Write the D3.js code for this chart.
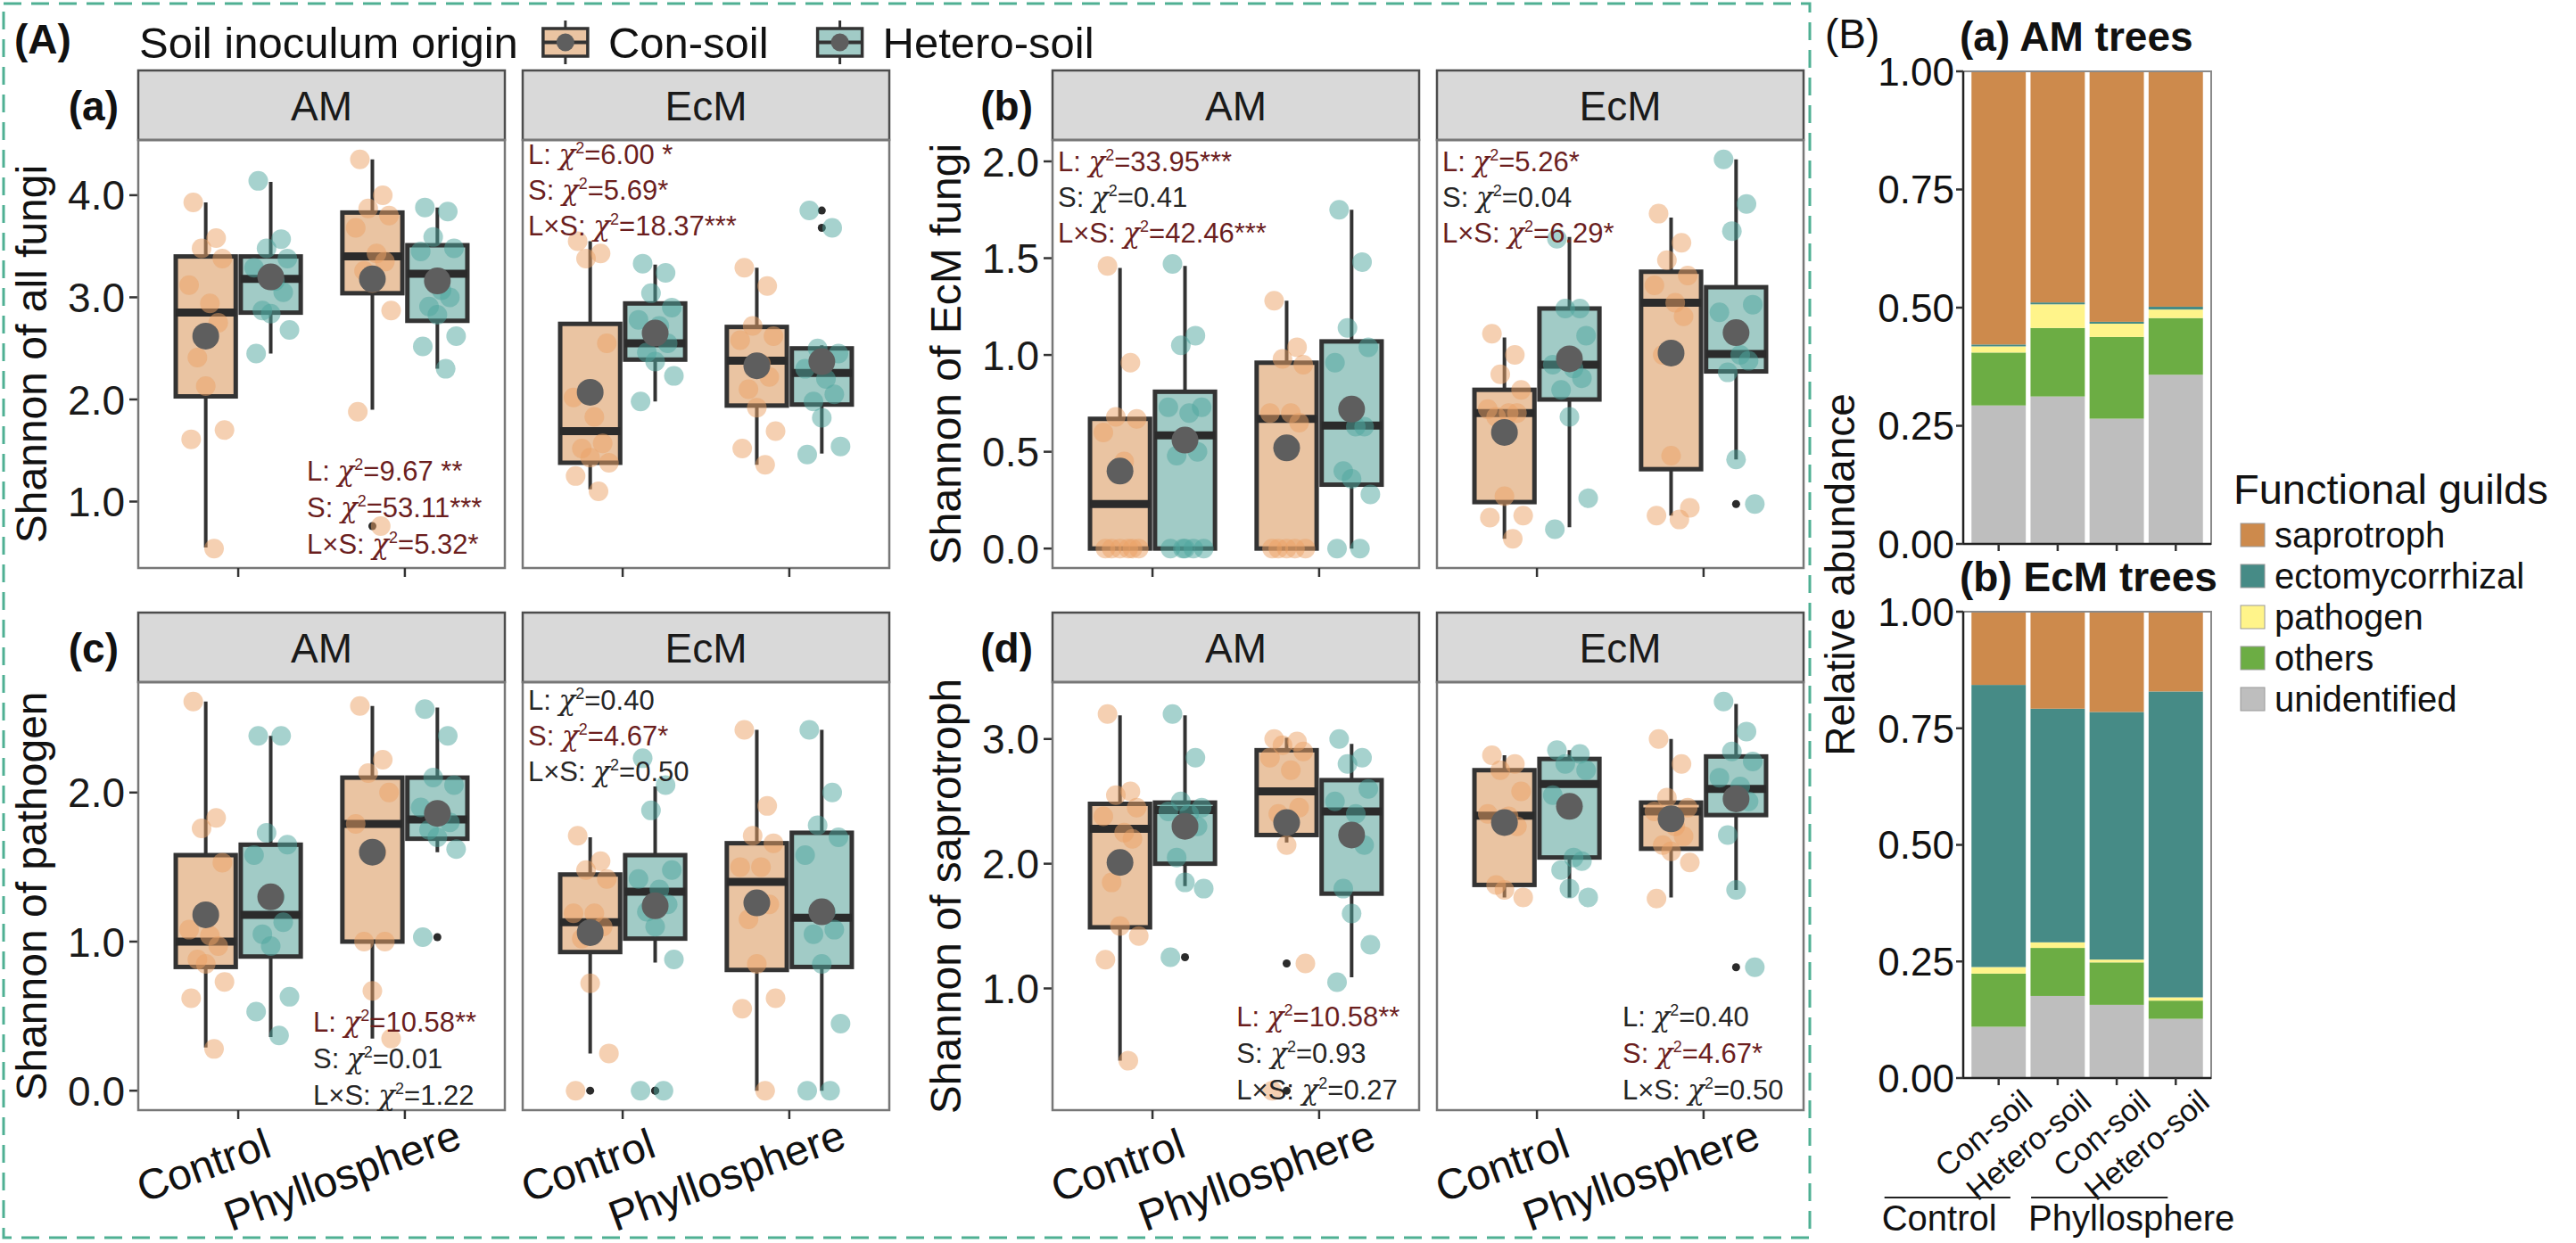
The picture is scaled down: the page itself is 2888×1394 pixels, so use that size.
<!DOCTYPE html>
<html>
<head>
<meta charset="utf-8">
<script src="https://cdn.jsdelivr.net/npm/d3@7"></script>
<style>
  body { margin: 0; background: #fff; }
  svg { display: block; }
</style>
</head>
<body>
<script>
// ── Data ────────────────────────────────────────────────────────────────────
const SOILS = ["Con-soil", "Hetero-soil"];
const LOCS = ["Control", "Phyllosphere"];
const MYCO = ["AM", "EcM"];

// box stats per facet, order: Control/Con, Control/Hetero, Phyllo/Con, Phyllo/Hetero
// each row = [lower whisker, Q1, median, Q3, upper whisker, mean]
const statsAllAM = [[0.55, 2.03, 2.85, 3.40, 3.93, 2.62], [2.45, 2.85, 3.18, 3.40, 4.13, 3.20], [1.90, 3.04, 3.40, 3.83, 4.35, 3.18], [2.30, 2.77, 3.23, 3.51, 3.88, 3.16]];
const statsAllEcM = [[1.12, 1.38, 1.69, 2.74, 3.55, 2.07], [1.98, 2.39, 2.55, 2.94, 3.32, 2.65], [1.36, 1.94, 2.38, 2.71, 3.29, 2.33], [1.47, 1.95, 2.26, 2.50, 2.53, 2.37]];
const ptsAllAM = [[3.93, 3.58, 3.48, 3.38, 3.12, 2.94, 2.75, 2.41, 2.13, 1.70, 1.61, 0.54], [4.14, 3.57, 3.48, 3.38, 3.29, 3.16, 3.05, 2.87, 2.84, 2.68, 2.45], [4.35, 4.00, 3.87, 3.80, 3.68, 3.43, 3.35, 3.26, 3.14, 2.87, 1.88, 0.76], [3.88, 3.84, 3.59, 3.48, 3.45, 3.07, 3.00, 2.91, 2.83, 2.62, 2.52, 2.30]];
const ptsAllEcM = [[3.55, 3.43, 3.38, 2.55, 2.02, 1.83, 1.57, 1.52, 1.43, 1.38, 1.25, 1.10], [3.33, 3.24, 3.04, 2.90, 2.78, 2.72, 2.55, 2.46, 2.37, 2.23, 1.98], [3.29, 3.11, 2.72, 2.62, 2.58, 2.35, 2.22, 2.10, 1.92, 1.69, 1.52, 1.36], [3.85, 3.68, 2.50, 2.45, 2.30, 2.20, 2.05, 1.98, 1.82, 1.54, 1.46]];
const outAllAM = [[], [], [0.76], []];
const outAllEcM = [[], [], [], [3.85, 3.68]];

const statsEcmAM = [[0, 0, 0.23, 0.67, 1.45, 0.40], [0, 0, 0.585, 0.81, 1.46, 0.56], [0, 0, 0.67, 0.96, 1.28, 0.52], [0, 0.33, 0.635, 1.07, 1.75, 0.72]];
const statsEcmEcM = [[0.05, 0.24, 0.70, 0.82, 1.09, 0.60], [0.11, 0.77, 0.95, 1.24, 1.61, 0.98], [0.17, 0.41, 1.27, 1.43, 1.71, 1.01], [0.46, 0.915, 1.005, 1.35, 2.01, 1.115]];
const ptsEcmAM = [[1.46, 0.96, 0.68, 0.67, 0.60, 0.45, 0, 0, 0, 0, 0, 0], [1.47, 1.10, 1.05, 0.73, 0.73, 0.70, 0.50, 0.48, 0, 0, 0, 0, 0], [1.28, 1.04, 0.98, 0.95, 0.70, 0.70, 0.65, 0, 0, 0, 0, 0], [1.75, 1.48, 1.14, 1.04, 0.96, 0.63, 0.63, 0.40, 0.36, 0.28, 0, 0]];
const ptsEcmEcM = [[1.11, 1.00, 0.90, 0.82, 0.72, 0.70, 0.70, 0.68, 0.27, 0.17, 0.16, 0.05], [1.60, 1.24, 1.24, 1.10, 0.95, 0.93, 0.88, 0.82, 0.68, 0.26, 0.10], [1.73, 1.58, 1.49, 1.41, 1.36, 1.27, 1.20, 1.00, 0.48, 0.21, 0.17, 0.15], [2.01, 1.78, 1.64, 1.26, 1.22, 1.00, 0.97, 0.91, 0.46, 0.23]];
const outEcmAM = [[], [], [], []];
const outEcmEcM = [[], [], [], [0.23]];

const statsPathAM = [[0.29, 0.83, 1.00, 1.58, 2.61, 1.18], [0.36, 0.90, 1.18, 1.65, 2.38, 1.30], [0.35, 1.00, 1.79, 2.10, 2.58, 1.60], [1.60, 1.69, 1.82, 2.10, 2.57, 1.86]];
const statsPathEcM = [[0.25, 0.93, 1.13, 1.45, 1.70, 1.06], [0.86, 1.02, 1.335, 1.58, 2.04, 1.24], [0, 0.81, 1.40, 1.66, 2.42, 1.26], [0, 0.83, 1.16, 1.73, 2.42, 1.20]];
const ptsPathAM = [[2.61, 1.83, 1.76, 1.53, 1.08, 1.04, 0.97, 0.88, 0.85, 0.73, 0.62, 0.28], [2.38, 2.38, 1.73, 1.65, 1.58, 1.30, 1.13, 1.05, 0.97, 0.63, 0.53, 0.37], [2.58, 2.22, 2.13, 2.00, 1.79, 1.60, 1.00, 1.00, 0.67, 0.35], [2.56, 2.38, 2.10, 2.05, 1.90, 1.85, 1.80, 1.75, 1.70, 1.62, 1.03]];
const ptsPathEcM = [[1.71, 1.54, 1.48, 1.42, 1.19, 1.19, 1.10, 1.02, 0.72, 0.25, 0], [2.23, 2.05, 1.88, 1.48, 1.42, 1.35, 1.25, 1.20, 1.10, 0.88, 0, 0], [2.42, 1.91, 1.71, 1.66, 1.50, 1.50, 1.25, 1.15, 0.85, 0.62, 0.55, 0], [2.42, 2.00, 1.78, 1.70, 1.58, 1.20, 1.08, 1.05, 0.85, 0.45, 0, 0]];
const outPathAM = [[], [], [], [1.03]];
const outPathEcM = [[0], [0, 0], [], []];

const statsSapAM = [[0.42, 1.49, 2.28, 2.48, 3.19, 2.01], [1.82, 2.00, 2.43, 2.49, 3.19, 2.30], [2.17, 2.23, 2.58, 2.91, 3.01, 2.33], [1.09, 1.76, 2.42, 2.67, 2.96, 2.23]];
const statsSapEcM = [[1.73, 1.83, 2.385, 2.75, 2.87, 2.33], [1.73, 2.05, 2.64, 2.84, 2.91, 2.46], [1.73, 2.12, 2.42, 2.49, 3.00, 2.36], [1.79, 2.39, 2.60, 2.86, 3.28, 2.52]];
const ptsSapAM = [[3.20, 2.58, 2.55, 2.45, 2.38, 2.25, 2.20, 1.85, 1.50, 1.42, 1.23, 0.42], [3.20, 2.85, 2.50, 2.45, 2.42, 2.40, 2.30, 2.05, 1.85, 1.80, 1.25], [3.00, 2.98, 2.95, 2.90, 2.85, 2.75, 2.45, 2.40, 2.15, 1.20, 0.18], [3.00, 2.85, 2.80, 2.60, 2.50, 2.40, 2.15, 1.80, 1.60, 1.35, 1.05]];
const ptsSapEcM = [[2.87, 2.80, 2.75, 2.58, 2.40, 2.38, 2.30, 1.83, 1.79, 1.73], [2.91, 2.88, 2.80, 2.75, 2.55, 2.05, 2.02, 1.95, 1.80, 1.73], [3.00, 2.80, 2.53, 2.45, 2.42, 2.30, 2.22, 2.15, 2.10, 2.01, 1.72], [3.30, 3.06, 2.90, 2.82, 2.69, 2.62, 2.50, 2.23, 1.79, 1.17]];
const outSapAM = [[], [1.25], [1.20, 0.18], []];
const outSapEcM = [[], [], [], [1.17]];

// test results: [term, chi-square text, significant?]
const notesAllAM = [["L", "9.67 **", 1], ["S", "53.11***", 1], ["L×S", "5.32*", 1]];
const notesAllEcM = [["L", "6.00 *", 1], ["S", "5.69*", 1], ["L×S", "18.37***", 1]];
const notesEcmAM = [["L", "33.95***", 1], ["S", "0.41", 0], ["L×S", "42.46***", 1]];
const notesEcmEcM = [["L", "5.26*", 1], ["S", "0.04", 0], ["L×S", "6.29*", 1]];
const notesPathAM = [["L", "10.58**", 1], ["S", "0.01", 0], ["L×S", "1.22", 0]];
const notesPathEcM = [["L", "0.40", 0], ["S", "4.67*", 1], ["L×S", "0.50", 0]];
const notesSapAM = [["L", "10.58**", 1], ["S", "0.93", 0], ["L×S", "0.27", 0]];
const notesSapEcM = [["L", "0.40", 0], ["S", "4.67*", 1], ["L×S", "0.50", 0]];

const ticksAll = [1, 2, 3, 4];
const ticksEcm = [0, 0.5, 1, 1.5, 2];
const ticksPath = [0, 1, 2];
const ticksSap = [1, 2, 3];

// panel (B): relative abundance of functional guilds
const BAR_LABELS = ["Con-soil", "Hetero-soil", "Con-soil", "Hetero-soil"];
const GUILDS = ["saprotroph", "ectomycorrhizal", "pathogen", "others", "unidentified"];
const GUILD_COLORS = ["#CD8A4C", "#468B86", "#FFF48A", "#6CAD44", "#BEBEBE"];
const amSapro = [0.578, 0.489, 0.530, 0.498];
const amEcto = [0.004, 0.004, 0.004, 0.006];
const amPath = [0.013, 0.050, 0.028, 0.018];
const amOthers = [0.112, 0.145, 0.173, 0.120];
const amUnid = [0.293, 0.312, 0.265, 0.358];
const ecmSapro = [0.157, 0.208, 0.215, 0.171];
const ecmEcto = [0.605, 0.501, 0.531, 0.656];
const ecmPath = [0.014, 0.012, 0.006, 0.007];
const ecmOthers = [0.114, 0.103, 0.091, 0.039];
const ecmUnid = [0.110, 0.176, 0.157, 0.127];
const bTicks = [0, 0.25, 0.5, 0.75, 1];

// ── Layout / style ──────────────────────────────────────────────────────────
const W = 2888, H = 1394;
const FONT = '"Liberation Sans", Arial, Helvetica, sans-serif';
const COL_X = [155, 1180];            // left edge of the AM facet per column
const FACET_W = 411, FACET_GAP = 20;
const ROWS = [{ strip: 79, top: 157, bottom: 637 }, { strip: 687, top: 765, bottom: 1245 }];
const DODGE = 0.195, BOX_HALF = 0.18;
const JIT = [-0.06, 0.05, -0.02, 0.08, -0.08, 0.02, 0.06, -0.04, 0.0, 0.09, -0.07, 0.04, -0.01];
const SOIL_FILL = ["#EAC4A2", "#A1CBC6"];
const SOIL_PT = ["#EBA266", "#4EA69D"];
const RED = "#6B1E1E", INK = "#262626";
const NOTE_FS = 31;
const LOC_BRACKET = [[-128, -53], [-96, -9]]; // x offsets of the location brackets in (B)

const svg = d3.select("body").append("svg")
  .attr("width", W).attr("height", H)
  .style("font-family", FONT);

svg.append("rect").attr("width", W).attr("height", H).attr("fill", "#fff");

// dashed frame around (A)
svg.append("rect")
  .attr("x", 4).attr("y", 4).attr("width", 2025).attr("height", 1384)
  .attr("fill", "none").attr("stroke", "#4FB093").attr("stroke-width", 3)
  .attr("stroke-dasharray", "20 11");

const PANELS = [
  { tag: "(a)", ylab: "Shannon of all fungi", col: 0, row: 0, ticks: ticksAll,
    stats: [statsAllAM, statsAllEcM], pts: [ptsAllAM, ptsAllEcM], out: [outAllAM, outAllEcM],
    notes: [notesAllAM, notesAllEcM], place: [{ br: 0.46, off: 27 }, { tl: 16 }] },
  { tag: "(b)", ylab: "Shannon of EcM fungi", col: 1, row: 0, ticks: ticksEcm,
    stats: [statsEcmAM, statsEcmEcM], pts: [ptsEcmAM, ptsEcmEcM], out: [outEcmAM, outEcmEcM],
    notes: [notesEcmAM, notesEcmEcM], place: [{ tl: 24 }, { tl: 24 }] },
  { tag: "(c)", ylab: "Shannon of pathogen", col: 0, row: 1, ticks: ticksPath,
    stats: [statsPathAM, statsPathEcM], pts: [ptsPathAM, ptsPathEcM], out: [outPathAM, outPathEcM],
    notes: [notesPathAM, notesPathEcM], place: [{ br: 0.477, off: 17 }, { tl: 20 }] },
  { tag: "(d)", ylab: "Shannon of saprotroph", col: 1, row: 1, ticks: ticksSap,
    stats: [statsSapAM, statsSapEcM], pts: [ptsSapAM, ptsSapEcM], out: [outSapAM, outSapEcM],
    notes: [notesSapAM, notesSapEcM], place: [{ br: 0.502, off: 23 }, { br: 0.506, off: 23 }] },
];

function noteLine(g, x, yc, line) {
  const [term, val, sig] = line;
  const t = g.append("text")
    .attr("x", x).attr("y", yc).attr("dy", "0.36em")
    .attr("font-size", NOTE_FS)
    .attr("fill", sig ? RED : INK);
  t.append("tspan").text(term + ": ");
  t.append("tspan").attr("font-family", '"DejaVu Serif", serif').attr("font-style", "italic").text("χ");
  t.append("tspan").attr("dy", -12).attr("font-size", NOTE_FS * 0.58).text("2");
  t.append("tspan").attr("dy", 12).text("=" + val);
}

function drawPanel(p) {
  const row = ROWS[p.row];
  const x0 = COL_X[p.col];

  // shared y scale for both facets, ggplot-like 5% expansion
  const vals = [];
  p.stats.forEach(f => f.forEach(s => vals.push(...s)));
  p.pts.forEach(f => f.forEach(a => vals.push(...a)));
  const [mn, mx] = d3.extent(vals);
  const pad = (mx - mn) * 0.05;
  const y = d3.scaleLinear().domain([mn - pad, mx + pad]).range([row.bottom, row.top]);

  // panel tag + y title
  svg.append("text")
    .attr("x", x0 - 22).attr("y", (row.strip + row.top) / 2).attr("dy", "0.36em")
    .attr("text-anchor", "end").attr("font-size", 46).attr("font-weight", 700)
    .attr("fill", "#111").text(p.tag);
  svg.append("text")
    .attr("transform", `translate(${x0 - 120},${(row.top + row.bottom) / 2}) rotate(-90)`)
    .attr("text-anchor", "middle").attr("dy", "0.36em")
    .attr("font-size", 48).attr("fill", "#111").text(p.ylab);

  // y axis (left facet only)
  p.ticks.forEach(t => {
    svg.append("line")
      .attr("x1", x0 - 10).attr("x2", x0).attr("y1", y(t)).attr("y2", y(t))
      .attr("stroke", "#333").attr("stroke-width", 2.5);
    svg.append("text")
      .attr("x", x0 - 15).attr("y", y(t)).attr("dy", "0.36em")
      .attr("text-anchor", "end").attr("font-size", 46).attr("fill", "#1a1a1a")
      .text(d3.format(".1f")(t));
  });

  MYCO.forEach((m, fi) => {
    const fx = x0 + fi * (FACET_W + FACET_GAP);
    const x = d3.scaleLinear().domain([-0.6, 1.6]).range([fx, fx + FACET_W]);
    const unit = x(1) - x(0);
    const g = svg.append("g");

    // strip
    g.append("rect")
      .attr("x", fx).attr("y", row.strip).attr("width", FACET_W).attr("height", row.top - row.strip)
      .attr("fill", "#D9D9D9").attr("stroke", "#4D4D4D").attr("stroke-width", 2.5);
    g.append("text")
      .attr("x", fx + FACET_W / 2).attr("y", (row.strip + row.top) / 2).attr("dy", "0.36em")
      .attr("text-anchor", "middle").attr("font-size", 46).attr("fill", "#1a1a1a").text(m);

    // boxes
    const boxCx = k => x(Math.floor(k / 2) + (k % 2 ? DODGE : -DODGE));
    p.stats[fi].forEach((s, k) => {
      const cx = boxCx(k);
      const hw = BOX_HALF * unit;
      g.append("line")
        .attr("x1", cx).attr("x2", cx).attr("y1", y(s[0])).attr("y2", y(s[4]))
        .attr("stroke", "#333").attr("stroke-width", 4);
      g.append("rect")
        .attr("x", cx - hw).attr("y", y(s[3])).attr("width", 2 * hw)
        .attr("height", Math.max(1, y(s[1]) - y(s[3])))
        .attr("fill", SOIL_FILL[k % 2]).attr("stroke", "#333").attr("stroke-width", 5);
      g.append("line")
        .attr("x1", cx - hw).attr("x2", cx + hw).attr("y1", y(s[2])).attr("y2", y(s[2]))
        .attr("stroke", "#2b2b2b").attr("stroke-width", 9);
    });

    // outliers (small dark points at the box centre, drawn with the box)
    p.out[fi].forEach((arr, k) => {
      const cx = boxCx(k);
      g.selectAll(null).data(arr).join("circle")
        .attr("cx", cx).attr("cy", d => y(d)).attr("r", 4.5).attr("fill", "#2b2b2b");
    });

    // jittered samples
    p.pts[fi].forEach((arr, k) => {
      const cx = boxCx(k);
      g.selectAll(null).data(arr).join("circle")
        .attr("cx", (d, i) => cx + JIT[i % JIT.length] * 1.25 * unit)
        .attr("cy", d => y(d))
        .attr("r", 11)
        .attr("fill", SOIL_PT[k % 2]).attr("fill-opacity", 0.5);
    });

    // means
    p.stats[fi].forEach((s, k) => {
      g.append("circle").attr("cx", boxCx(k)).attr("cy", y(s[5])).attr("r", 15).attr("fill", "#5E5E5E");
    });

    // panel border
    g.append("rect")
      .attr("x", fx).attr("y", row.top).attr("width", FACET_W).attr("height", row.bottom - row.top)
      .attr("fill", "none").attr("stroke", "#777").attr("stroke-width", 2.5);

    // x ticks and labels
    LOCS.forEach((loc, li) => {
      g.append("line")
        .attr("x1", x(li)).attr("x2", x(li)).attr("y1", row.bottom).attr("y2", row.bottom + 10)
        .attr("stroke", "#333").attr("stroke-width", 2.5);
      if (p.row === 1) {
        const lg = g.append("g").attr("transform", `translate(${x(li)},${row.bottom + 47}) rotate(-20)`);
        const t = lg.append("text")
          .attr("text-anchor", "end").attr("dy", "0.36em")
          .attr("font-size", 48).attr("fill", "#111").text(loc);
        t.attr("x", 0.23 * t.node().getComputedTextLength());
      }
    });

    // test statistics
    const pl = p.place[fi];
    p.notes[fi].forEach((line, i) => {
      if (pl.tl !== undefined) {
        noteLine(g, fx + 6, row.top + pl.tl + i * 40, line);
      } else {
        noteLine(g, fx + pl.br * FACET_W, row.bottom - pl.off - (2 - i) * 41, line);
      }
    });
  });
}

PANELS.forEach(drawPanel);

// ── (A) header and soil legend ─────────────────────────────────────────────
svg.append("text").attr("x", 16).attr("y", 43).attr("dy", "0.36em")
  .attr("font-size", 46).attr("font-weight", 700).attr("fill", "#111").text("(A)");

const legTitle = svg.append("text").attr("x", 156).attr("y", 47).attr("dy", "0.36em")
  .attr("font-size", 49).attr("fill", "#111").text("Soil inoculum origin");
let lx = 156 + legTitle.node().getComputedTextLength() + 28;
SOILS.forEach((s, i) => {
  const kg = svg.append("g");
  kg.append("line").attr("x1", lx + 25).attr("x2", lx + 25).attr("y1", 23).attr("y2", 72)
    .attr("stroke", "#333").attr("stroke-width", 3);
  kg.append("rect").attr("x", lx).attr("y", 32).attr("width", 50).attr("height", 31)
    .attr("fill", SOIL_FILL[i]).attr("stroke", "#333").attr("stroke-width", 3.5);
  kg.append("line").attr("x1", lx).attr("x2", lx + 50).attr("y1", 47.5).attr("y2", 47.5)
    .attr("stroke", "#333").attr("stroke-width", 4);
  kg.append("circle").attr("cx", lx + 25).attr("cy", 47.5).attr("r", 10).attr("fill", "#5E5E5E");
  const t = svg.append("text").attr("x", lx + 73).attr("y", 47).attr("dy", "0.36em")
    .attr("font-size", 49).attr("fill", "#111").text(s);
  lx += 73 + t.node().getComputedTextLength() + 55;
});

// ── (B) stacked bars ───────────────────────────────────────────────────────
const B_LEFT = 2201, B_RIGHT = 2479;
const bx = d3.scaleLinear().domain([-0.6, 3.6]).range([B_LEFT, B_RIGHT]);
const bw = 0.92 * (bx(1) - bx(0));
const STACK_KEYS = ["unidentified", "others", "pathogen", "ectomycorrhizal", "saprotroph"];
const bPanels = [
  { title: "(a) AM trees", top: 80, bottom: 610, cols: [amSapro, amEcto, amPath, amOthers, amUnid], labels: false },
  { title: "(b) EcM trees", top: 686, bottom: 1209, cols: [ecmSapro, ecmEcto, ecmPath, ecmOthers, ecmUnid], labels: true },
];

svg.append("text").attr("x", 2046).attr("y", 37).attr("dy", "0.36em")
  .attr("font-size", 46).attr("fill", "#111").text("(B)");

bPanels.forEach(bp => {
  const rows = BAR_LABELS.map((_, i) => {
    const r = { i };
    GUILDS.forEach((gname, gi) => { r[gname] = bp.cols[gi][i]; });
    return r;
  });
  const stack = d3.stack().keys(STACK_KEYS)(rows);
  const by = d3.scaleLinear().domain([0, 1]).range([bp.bottom, bp.top]);
  const g = svg.append("g");

  svg.append("text").attr("x", 2197).attr("y", bp.top - 40).attr("dy", "0.36em")
    .attr("font-size", 46).attr("font-weight", 700).attr("fill", "#111").text(bp.title);

  stack.forEach(layer => {
    const color = GUILD_COLORS[GUILDS.indexOf(layer.key)];
    g.selectAll(null).data(layer).join("rect")
      .attr("x", d => bx(d.data.i) - bw / 2)
      .attr("y", d => by(d[1]))
      .attr("width", bw)
      .attr("height", d => Math.max(0, by(d[0]) - by(d[1])))
      .attr("fill", color);
  });

  g.append("rect").attr("x", B_LEFT).attr("y", bp.top).attr("width", B_RIGHT - B_LEFT)
    .attr("height", bp.bottom - bp.top).attr("fill", "none")
    .attr("stroke", "#8a8a8a").attr("stroke-width", 2);
  g.append("line").attr("x1", B_LEFT).attr("x2", B_LEFT).attr("y1", bp.top).attr("y2", bp.bottom)
    .attr("stroke", "#222").attr("stroke-width", 2.5);
  g.append("line").attr("x1", B_LEFT).attr("x2", B_RIGHT).attr("y1", bp.bottom).attr("y2", bp.bottom)
    .attr("stroke", "#222").attr("stroke-width", 2.5);

  bTicks.forEach(t => {
    g.append("line").attr("x1", B_LEFT - 8).attr("x2", B_LEFT).attr("y1", by(t)).attr("y2", by(t))
      .attr("stroke", "#333").attr("stroke-width", 2.5);
    g.append("text").attr("x", B_LEFT - 10).attr("y", by(t)).attr("dy", "0.36em")
      .attr("text-anchor", "end").attr("font-size", 44).attr("fill", "#111")
      .text(d3.format(".2f")(t));
  });

  BAR_LABELS.forEach((lab, i) => {
    g.append("line").attr("x1", bx(i)).attr("x2", bx(i)).attr("y1", bp.bottom).attr("y2", bp.bottom + 8)
      .attr("stroke", "#333").attr("stroke-width", 2.5);
    if (bp.labels) {
      g.append("text")
        .attr("transform", `translate(${bx(i) + 40},${bp.bottom + 30}) rotate(-40)`)
        .attr("text-anchor", "end").attr("font-size", 35).attr("fill", "#111").text(lab);
    }
  });

  if (bp.labels) {
    // location brackets under the rotated labels
    LOCS.forEach((loc, li) => {
      const xa = bx(2 * li) + LOC_BRACKET[li][0], xb = bx(2 * li + 1) + LOC_BRACKET[li][1];
      g.append("line").attr("x1", xa).attr("x2", xb).attr("y1", bp.bottom + 134).attr("y2", bp.bottom + 134)
        .attr("stroke", "#222").attr("stroke-width", 2);
      g.append("text").attr("x", xa - 3).attr("y", bp.bottom + 157).attr("dy", "0.36em")
        .attr("font-size", 40).attr("fill", "#111").text(loc);
    });
  }
});

svg.append("text")
  .attr("transform", `translate(2062,${(80 + 1209) / 2}) rotate(-90)`)
  .attr("text-anchor", "middle").attr("dy", "0.36em")
  .attr("font-size", 46).attr("fill", "#111").text("Relative abundance");

// guild legend
svg.append("text").attr("x", 2504).attr("y", 548).attr("dy", "0.36em")
  .attr("font-size", 47).attr("fill", "#111").text("Functional guilds");
GUILDS.forEach((gname, i) => {
  const cy = 600 + i * 46;
  svg.append("rect").attr("x", 2512).attr("y", cy - 13).attr("width", 27).attr("height", 26)
    .attr("fill", GUILD_COLORS[i]).attr("stroke", "#9a9a9a").attr("stroke-width", 1);
  svg.append("text").attr("x", 2550).attr("y", cy).attr("dy", "0.36em")
    .attr("font-size", 40).attr("fill", "#111").text(gname);
});
</script>
</body>
</html>
